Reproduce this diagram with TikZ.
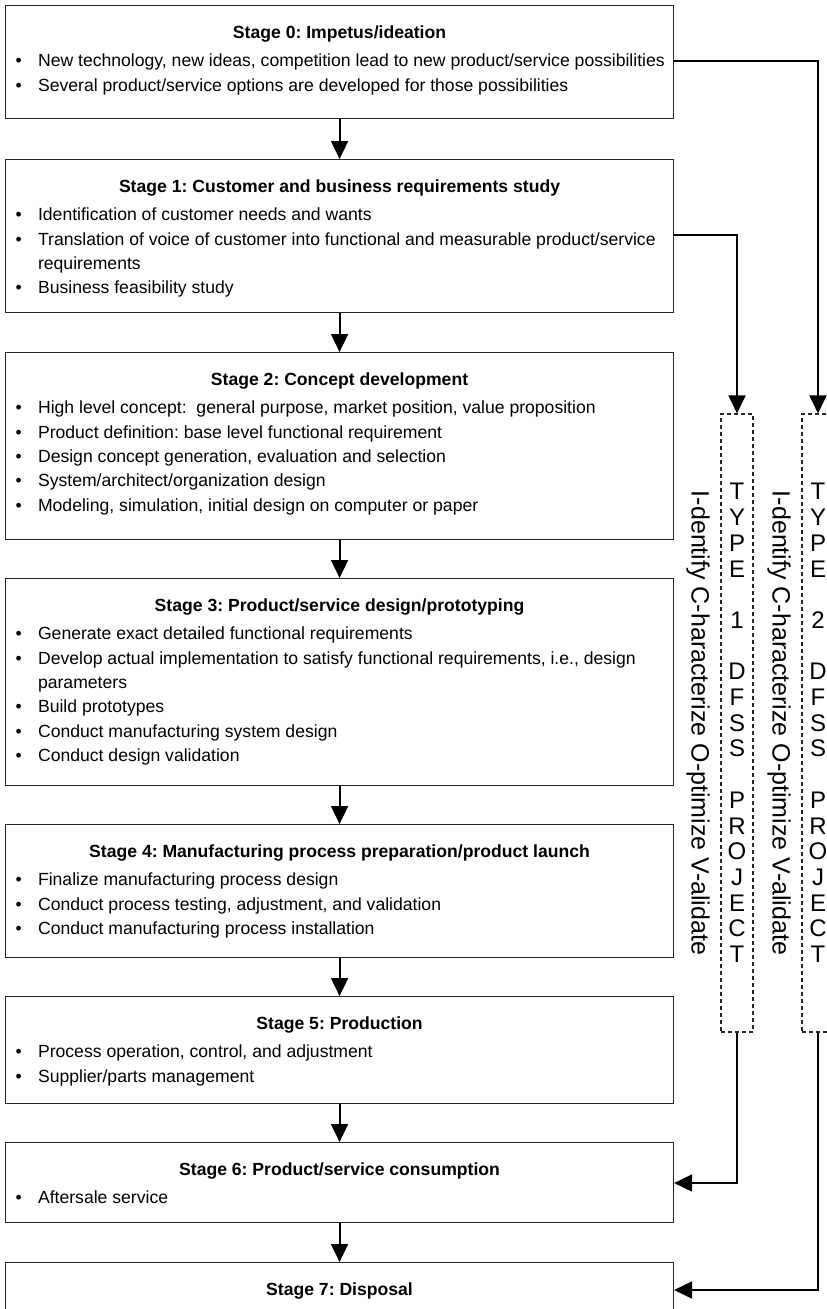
\documentclass[tikz,border=0pt]{standalone}
\usepackage{fontspec}
\setmainfont{Liberation Sans}
\usepackage{tikz}
\usetikzlibrary{arrows.meta}
\setlength{\parskip}{0pt}
\frenchspacing

% box body: height, bold title, bullet lines
\newcommand{\stagetext}[3]{\parbox[t][#1pt][t]{668pt}{\vspace*{20.5pt}\centering\bfseries #2\par
  \vspace{3.5pt}\raggedright\mdseries #3}}
\newcommand{\bul}{\par\hangindent=32.5pt\hangafter=1\noindent\makebox[32.5pt][l]{\hspace{10pt}\textbullet}}

\tikzset{
  stagebox/.style={draw=black!85, line width=1.1pt, inner sep=0pt, anchor=north west,
    font=\fontsize{17.6}{24.4}\selectfont},
  flow/.style={line width=1.9pt, -{Triangle[length=18pt,width=17pt]}},
  dfss/.style={draw=black!85, line width=1.1pt, dash pattern=on 4pt off 3pt, inner sep=0pt,
    minimum width=32pt, minimum height=618pt, text width=32pt, align=center,
    font=\fontsize{24}{25.7}\selectfont},
  icov/.style={rotate=-90, inner sep=0pt, font=\fontsize{25}{30}\selectfont}
}

\begin{document}
\begin{tikzpicture}[x=1pt, y=-1pt]
  \path[use as bounding box] (0,0) rectangle (827,1309);
  \clip (0,0) rectangle (827,1309);
  % stages
  \node[stagebox] (s0) at (5,5) {\stagetext{113}{Stage 0: Impetus/ideation}{%
    \bul New technology, new ideas, competition lead to new product/service possibilities
    \bul Several product/service options are developed for those possibilities}};
  \node[stagebox] (s1) at (5,159) {\stagetext{153}{Stage 1: Customer and business requirements study}{%
    \bul Identification of customer needs and wants
    \bul Translation of voice of customer into functional and measurable product/service requirements
    \bul Business feasibility study}};
  \node[stagebox] (s2) at (5,352) {\stagetext{187}{Stage 2: Concept development}{%
    \bul High level concept:~ general purpose, market position, value proposition
    \bul Product definition: base level functional requirement
    \bul Design concept generation, evaluation and selection
    \bul System/architect/organization design
    \bul Modeling, simulation, initial design on computer or paper}};
  \node[stagebox] (s3) at (5,578) {\stagetext{207}{Stage 3: Product/service design/prototyping}{%
    \bul Generate exact detailed functional requirements
    \bul Develop actual implementation to satisfy functional requirements, i.e., design parameters
    \bul Build prototypes
    \bul Conduct manufacturing system design
    \bul Conduct design validation}};
  \node[stagebox] (s4) at (5,824) {\stagetext{133}{Stage 4: Manufacturing process preparation/product launch}{%
    \bul Finalize manufacturing process design
    \bul Conduct process testing, adjustment, and validation
    \bul Conduct manufacturing process installation}};
  \node[stagebox] (s5) at (5,996) {\stagetext{107}{Stage 5: Production}{%
    \bul Process operation, control, and adjustment
    \bul Supplier/parts management}};
  \node[stagebox] (s6) at (5,1142) {\stagetext{80}{Stage 6: Product/service consumption}{%
    \bul Aftersale service}};
  \node[stagebox] (s7) at (5,1262) {\stagetext{100}{Stage 7: Disposal}{}};
  % flow between stages
  \draw[flow] (s0.south) -- (s1.north);
  \draw[flow] (s1.south) -- (s2.north);
  \draw[flow] (s2.south) -- (s3.north);
  \draw[flow] (s3.south) -- (s4.north);
  \draw[flow] (s4.south) -- (s5.north);
  \draw[flow] (s5.south) -- (s6.north);
  \draw[flow] (s6.south) -- (s7.north);
  % DFSS projects
  \node[dfss] (t1) at (737,723) {T\\Y\\P\\E\\~\\1\\~\\D\\F\\S\\S\\~\\P\\R\\O\\J\\E\\C\\T};
  \node[dfss] (t2) at (818,723) {T\\Y\\P\\E\\~\\2\\~\\D\\F\\S\\S\\~\\P\\R\\O\\J\\E\\C\\T};
  \node[icov] (c1) at (698,723) {I-dentify C-haracterize O-ptimize V-alidate};
  \node[icov] (c2) at (779,723) {I-dentify C-haracterize O-ptimize V-alidate};
  \draw[flow] ([yshift=-76pt]s1.north east) -| (t1.north);
  \draw[flow] ([yshift=-56pt]s0.north east) -| (t2.north);
  \draw[flow] (t1.south) |- ([yshift=-41pt]s6.north east);
  \draw[flow] (t2.south) |- ([yshift=-28pt]s7.north east);
\end{tikzpicture}
\end{document}
